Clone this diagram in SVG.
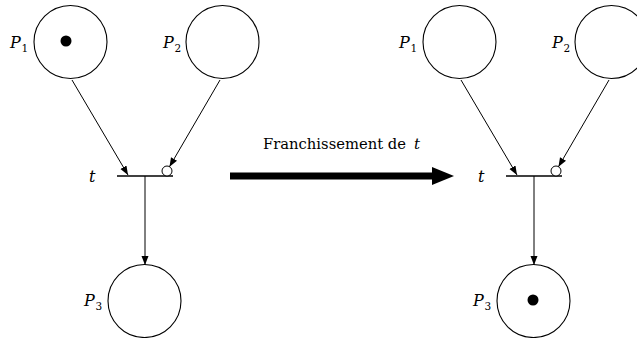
<svg xmlns="http://www.w3.org/2000/svg" width="637" height="338" viewBox="0 0 637 338">
<style>
.place{fill:#fff;stroke:#000;stroke-width:1.1}
.tok{fill:#000}
.edge{stroke:#000;stroke-width:1;fill:none}
.bar{stroke:#000;stroke-width:1.3}
.inh{fill:#fff;stroke:#000;stroke-width:1}
.lbl{font-style:italic;font-size:16px}
.sub{font-size:10.5px}
.cap{font-size:15px}
</style>
<defs>
<marker id="ah" markerUnits="userSpaceOnUse" markerWidth="10" markerHeight="8" refX="9" refY="3.5" orient="auto">
<path d="M0,0 L9,3.5 L0,7 Z" fill="#000"/>
</marker>
</defs>
<g font-family="DejaVu Serif, Liberation Serif, serif" fill="#000">
<g id="left">
<g id="P1L">
<circle class="place" cx="70.5" cy="42" r="36.5"/>
<circle class="tok" cx="66" cy="41" r="5.5"/>
<text class="lbl" x="10" y="48">P</text><text class="sub" x="21.5" y="52">1</text>
</g>
<g id="P2L">
<circle class="place" cx="222.5" cy="42" r="36.5"/>
<text class="lbl" x="163" y="48">P</text><text class="sub" x="174.5" y="52">2</text>
</g>
<g id="tL">
<line class="bar" x1="117" y1="176" x2="173" y2="176"/>
<circle class="inh" cx="167" cy="171" r="5"/>
<text class="lbl" x="89" y="182">t</text>
</g>
<g id="P3L">
<circle class="place" cx="144.5" cy="301" r="36.5"/>
<text class="lbl" x="84" y="306">P</text><text class="sub" x="95.5" y="310">3</text>
</g>
</g>

<g id="right">
<g id="P1R">
<circle class="place" cx="459.5" cy="42" r="36.5"/>
<text class="lbl" x="399" y="48">P</text><text class="sub" x="410.5" y="52">1</text>
</g>
<g id="P2R">
<circle class="place" cx="611.5" cy="42" r="36.5"/>
<text class="lbl" x="552" y="48">P</text><text class="sub" x="563.5" y="52">2</text>
</g>
<g id="tR">
<line class="bar" x1="506" y1="176" x2="562" y2="176"/>
<circle class="inh" cx="556" cy="171" r="5"/>
<text class="lbl" x="478" y="182">t</text>
</g>
<g id="P3R">
<circle class="place" cx="533.5" cy="301" r="36.5"/>
<circle class="tok" cx="533" cy="300" r="5.5"/>
<text class="lbl" x="473" y="306">P</text><text class="sub" x="484.5" y="310">3</text>
</g>
</g>

<g id="connectors">
<line class="edge" x1="72" y1="80" x2="128" y2="175" marker-end="url(#ah)"/>
<line class="edge" x1="220" y1="80" x2="169.5" y2="166.7" marker-end="url(#ah)"/>
<line class="edge" x1="145" y1="176" x2="145" y2="265" marker-end="url(#ah)"/>
<line class="edge" x1="461" y1="80" x2="517" y2="175" marker-end="url(#ah)"/>
<line class="edge" x1="609" y1="80" x2="558.5" y2="166.7" marker-end="url(#ah)"/>
<line class="edge" x1="534" y1="176" x2="534" y2="265" marker-end="url(#ah)"/>
<g id="firing">
<rect x="230" y="172.5" width="204" height="7" fill="#000"/>
<path d="M432,167 L454,176 L432,185 Z" fill="#000"/>
<text class="cap" x="263" y="149" textLength="143" lengthAdjust="spacingAndGlyphs">Franchissement de</text>
<text class="lbl" x="414" y="149" style="font-size:15px">t</text>
</g>
</g>
</g>
</svg>
